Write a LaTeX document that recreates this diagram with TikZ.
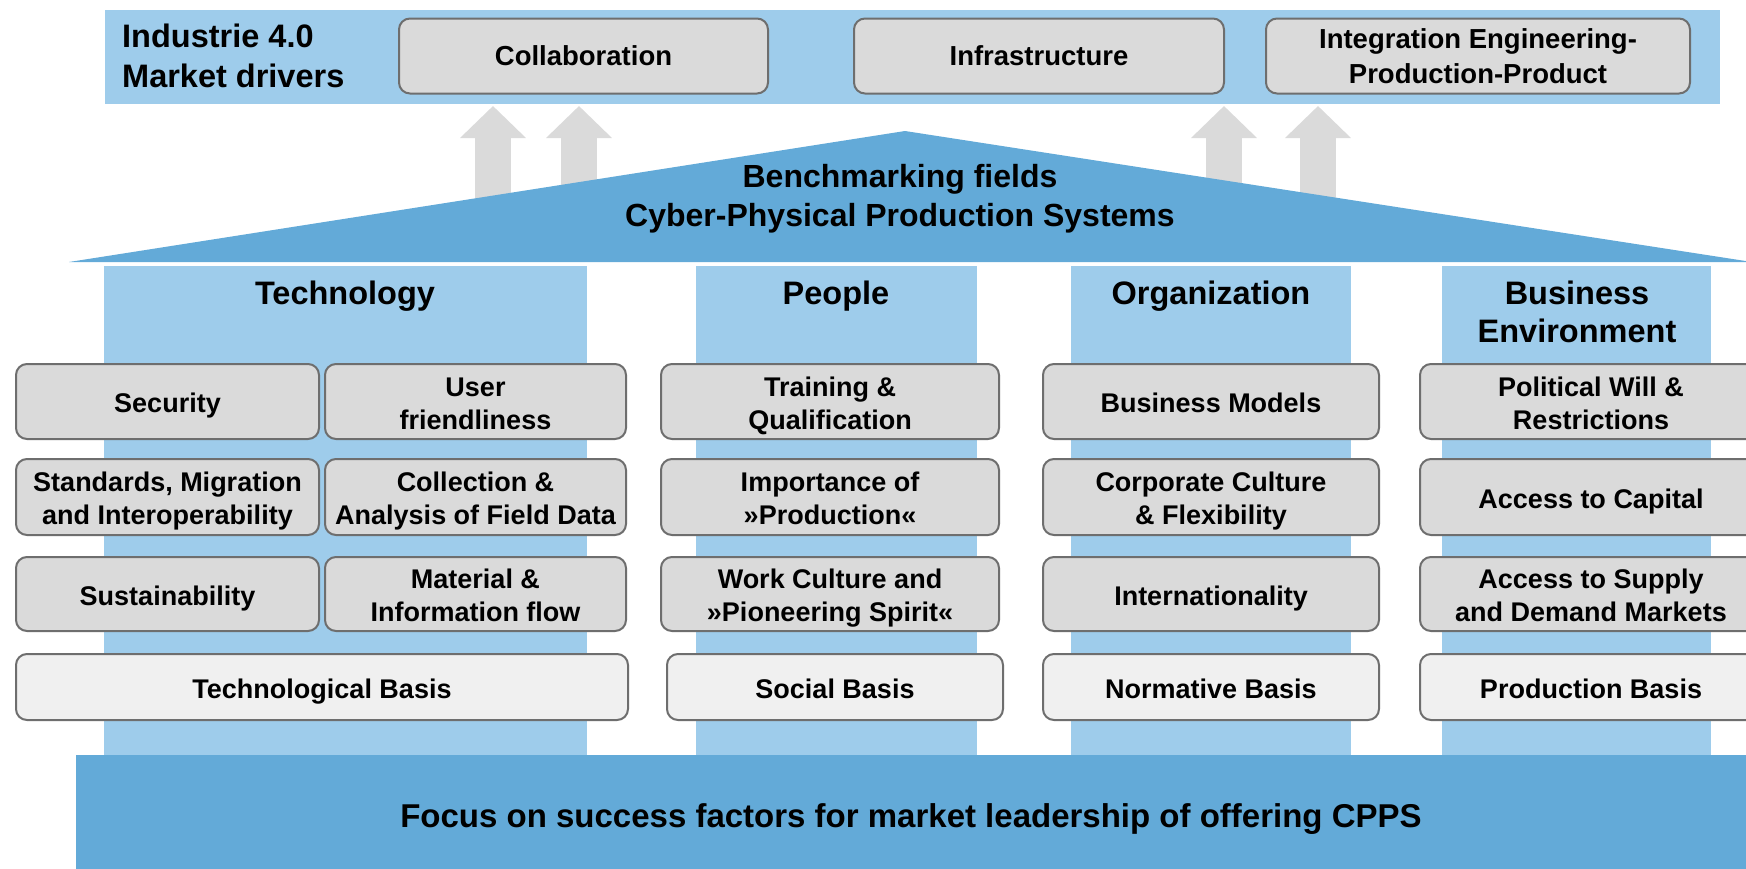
\documentclass[tikz,border=0pt]{standalone}
\usepackage{fontspec}
\setmainfont{Liberation Sans}
\usetikzlibrary{arrows.meta}
\definecolor{bandblue}{RGB}{158,204,235}
\definecolor{roofblue}{RGB}{99,170,216}
\definecolor{boxgray}{RGB}{218,218,218}
\definecolor{basisgray}{RGB}{240,240,240}
\definecolor{edgegray}{RGB}{110,110,110}
\definecolor{arrowgray}{RGB}{218,218,218}
\newcommand{\tsX}{\rule{0pt}{28pt}}
\newcommand{\bsX}{\rule[-5.7pt]{0pt}{5.7pt}}
\begin{document}
\begin{tikzpicture}[x=1pt,y=-1pt,
  roundbox/.style={draw=edgegray, line width=2pt, rounded corners=11pt, fill=boxgray,
    align=center, inner sep=0pt},
  fbox/.style={roundbox, font=\fontsize{27}{33}\selectfont\bfseries},
  topbox/.style={roundbox, font=\fontsize{27.5}{35.5}\selectfont\bfseries},
  basisbox/.style={fbox, fill=basisgray},
  header/.style={font=\fontsize{32.5}{38}\selectfont\bfseries, align=center, inner sep=0pt},
  bigarrow/.style={draw=arrowgray, line width=36pt, -{Triangle[length=32pt,width=64pt]}}]
\clip (0,0) rectangle (1746,868);
\fill[white] (0,0) rectangle (1746,868);
% top band
\fill[bandblue] (105,10) rectangle (1720,104);
% arrows
\coordinate (a1b) at (493,250); \coordinate (a1t) at (493,106);
\coordinate (a2b) at (579,250); \coordinate (a2t) at (579,106);
\coordinate (a3b) at (1224,250); \coordinate (a3t) at (1224,106);
\coordinate (a4b) at (1318,250); \coordinate (a4t) at (1318,106);
\draw[bigarrow] (a1b) -- (a1t);
\draw[bigarrow] (a2b) -- (a2t);
\draw[bigarrow] (a3b) -- (a3t);
\draw[bigarrow] (a4b) -- (a4t);
% roof
\fill[roofblue] (69,262) -- (905,131) -- (1752,262) -- cycle;
% columns
\fill[bandblue] (104,266) rectangle (587,755);
\fill[bandblue] (696,266) rectangle (977,755);
\fill[bandblue] (1071,266) rectangle (1351,755);
\fill[bandblue] (1442,266) rectangle (1711,755);
% bottom band
\fill[roofblue] (76,755) rectangle (1750,870);
% top texts
\node[font=\fontsize{32.5}{40}\selectfont\bfseries, align=left, anchor=west, inner sep=0pt] (drivers) at (122,56) {Industrie 4.0\\Market drivers};
\node[topbox, minimum width=369pt, minimum height=75pt] (collab) at (583.5,56) {Collaboration};
\node[topbox, minimum width=370pt, minimum height=75pt] (infra) at (1039,56) {Infrastructure};
\node[topbox, minimum width=424pt, minimum height=75pt] (integ) at (1478,56) {Integration Engineering-\\Production-Product};
% roof text
\node[font=\fontsize{32}{39}\selectfont\bfseries, align=center, inner sep=0pt] (bench) at (900,198.5) {Benchmarking fields\\Cyber-Physical Production Systems};
% headers
\node[header, anchor=base] (tech) at (345,304.5) {Technology};
\node[header, anchor=base] (people) at (836,304.5) {People};
\node[header, anchor=base] (org) at (1211,304.5) {Organization};
\node[header] (busenv) at (1577,312) {Business\\Environment};
% Technology boxes
\node[fbox, minimum width=303pt, minimum height=75pt] (security) at (167.5,401.5) {\tsX Security\bsX};
\node[fbox, minimum width=301pt, minimum height=75pt] (user) at (475.5,401.5) {\tsX User\\friendliness\bsX};
\node[fbox, minimum width=303pt, minimum height=76pt] (standards) at (167.5,497) {\tsX Standards, Migration\\and Interoperability\bsX};
\node[fbox, minimum width=301pt, minimum height=76pt] (collection) at (475.5,497) {\tsX Collection \&\\Analysis of Field Data\bsX};
\node[fbox, minimum width=303pt, minimum height=74pt] (sustain) at (167.5,594) {\tsX Sustainability\bsX};
\node[fbox, minimum width=301pt, minimum height=74pt] (material) at (475.5,594) {\tsX Material \&\\Information flow\bsX};
\node[basisbox, minimum width=612pt, minimum height=66pt] (techbasis) at (322,687) {\tsX Technological Basis\bsX};
% People boxes
\node[fbox, minimum width=338pt, minimum height=75pt] (training) at (830,401.5) {\tsX Training \&\\Qualification\bsX};
\node[fbox, minimum width=338pt, minimum height=76pt] (importance) at (830,497) {\tsX Importance of\\»Production«\bsX};
\node[fbox, minimum width=338pt, minimum height=74pt] (work) at (830,594) {\tsX Work Culture and\\»Pioneering Spirit«\bsX};
\node[basisbox, minimum width=336pt, minimum height=66pt] (social) at (835,687) {\tsX Social Basis\bsX};
% Organization boxes
\node[fbox, minimum width=336pt, minimum height=75pt] (models) at (1211,401.5) {\tsX Business Models\bsX};
\node[fbox, minimum width=336pt, minimum height=76pt] (corporate) at (1211,497) {\tsX Corporate Culture\\\& Flexibility\bsX};
\node[fbox, minimum width=336pt, minimum height=74pt] (intl) at (1211,594) {\tsX Internationality\bsX};
\node[basisbox, minimum width=336pt, minimum height=66pt] (normative) at (1211,687) {\tsX Normative Basis\bsX};
% Business boxes
\node[fbox, minimum width=342pt, minimum height=75pt] (political) at (1591,401.5) {\tsX Political Will \&\\Restrictions\bsX};
\node[fbox, minimum width=342pt, minimum height=76pt] (capital) at (1591,497) {\tsX Access to Capital\bsX};
\node[fbox, minimum width=342pt, minimum height=74pt] (supply) at (1591,594) {\tsX Access to Supply\\and Demand Markets\bsX};
\node[basisbox, minimum width=342pt, minimum height=66pt] (production) at (1591,687) {\tsX Production Basis\bsX};
% bottom text
\node[font=\fontsize{33}{38}\selectfont\bfseries, inner sep=0pt] (focus) at (911,819.5) {Focus on success factors for market leadership of offering CPPS};
\end{tikzpicture}
\end{document}
